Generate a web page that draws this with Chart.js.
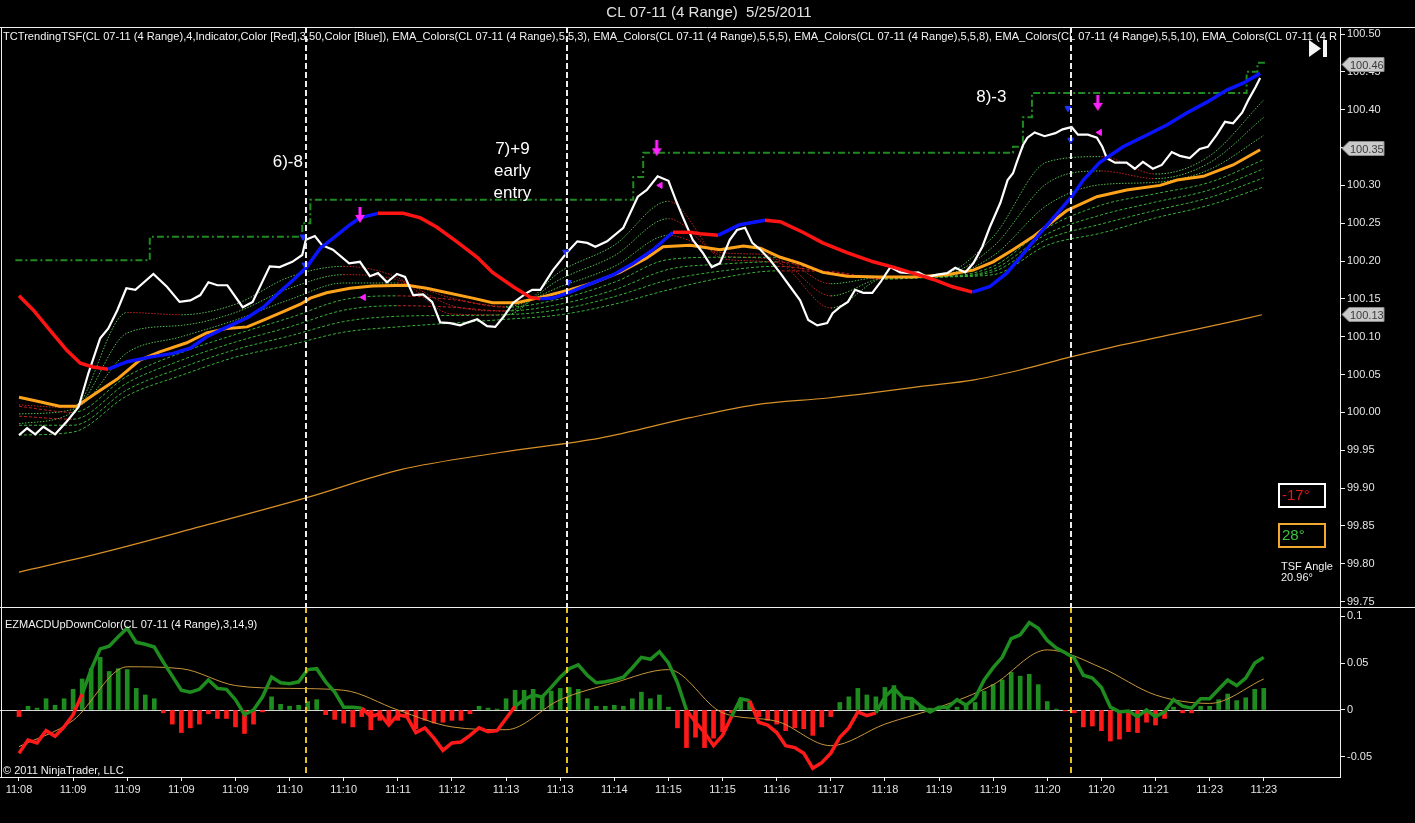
<!DOCTYPE html>
<html>
<head>
<meta charset="utf-8">
<title>CL 07-11 (4 Range) 5/25/2011</title>
<script src="https://cdn.jsdelivr.net/npm/chart.js@4.4.1/dist/chart.umd.min.js"></script>
<style>
  html, body { margin: 0; padding: 0; background: #000; overflow: hidden; }
  #wrap { position: relative; width: 1415px; height: 823px; }
  #priceBox { position: absolute; left: 0; top: 0; width: 1415px; height: 623px; }
  #macdBox { position: absolute; left: 0; top: 590px; width: 1415px; height: 233px; }
</style>
</head>
<body>
<div id="wrap">
  <div id="priceBox"><canvas id="priceChart"></canvas></div>
  <div id="macdBox"><canvas id="macdChart"></canvas></div>
</div>
<script>
const FONT = "'Liberation Sans', Arial, sans-serif";
Chart.defaults.font.family = FONT;
Chart.defaults.color = '#e4e4e4';

const chartTitle = 'CL 07-11 (4 Range)  5/25/2011';
const indicatorCaption = 'TCTrendingTSF(CL 07-11 (4 Range),4,Indicator,Color [Red],3,50,Color [Blue]), EMA_Colors(CL 07-11 (4 Range),5,5,3), EMA_Colors(CL 07-11 (4 Range),5,5,5), EMA_Colors(CL 07-11 (4 Range),5,5,8), EMA_Colors(CL 07-11 (4 Range),5,5,10), EMA_Colors(CL 07-11 (4 R';
const macdCaption = 'EZMACDUpDownColor(CL 07-11 (4 Range),3,14,9)';
const copyright = '\u00A9 2011 NinjaTrader, LLC';

// x axis: one label every 6 range bars
const BARS_PER_LABEL = 6;
const timeLabels = ['11:08','11:09','11:09','11:09','11:09','11:10','11:10','11:11','11:12','11:13','11:13','11:14',
                    '11:15','11:15','11:16','11:17','11:18','11:19','11:19','11:20','11:20','11:21','11:23','11:23'];
const labelBars = timeLabels.map((_, i) => i * BARS_PER_LABEL);
// where bar 0 sits and how wide a bar is on screen
const FIRST_BAR_PX = 19, PX_PER_BAR = 9.02;

const priceTicks = [99.75,99.80,99.85,99.90,99.95,100.00,100.05,100.10,100.15,100.20,100.25,100.30,100.35,100.40,100.45,100.50];
const macdTicks = [-0.05, 0, 0.05, 0.1];
const macdTickLabels = ['-0.05', '0', '0.05', '0.1'];

// close line (bar position, price)
const closeBars = [0.0,0.9,1.8,2.7,4.0,5.3,6.6,7.7,9.0,9.9,10.9,11.9,12.9,14.9,16.4,17.8,19.0,20.1,21.0,22.0,23.1,24.8,25.9,27.8,28.9,30.3,31.4,31.8,32.8,33.6,34.8,36.6,37.8,38.9,39.8,40.8,41.9,42.8,43.7,44.8,45.8,46.7,47.8,48.9,49.8,50.8,51.9,52.8,53.7,54.8,56.3,56.9,57.8,59.2,60.8,61.9,63.0,63.9,65.2,67.0,68.6,69.6,70.8,72.0,72.9,73.6,74.7,75.8,76.8,77.7,78.8,79.6,80.5,81.3,82.2,83.3,84.4,85.5,86.6,87.5,88.5,89.6,90.2,91.0,91.9,92.7,93.6,94.6,95.5,96.6,97.7,98.8,99.7,100.7,101.8,102.9,103.8,104.9,105.8,106.8,107.6,108.8,109.6,110.2,110.6,111.3,111.8,112.6,113.7,114.9,115.7,116.7,117.4,118.5,119.5,120.1,120.6,121.5,122.8,123.7,124.6,125.7,126.7,127.8,128.7,129.8,130.9,131.8,132.8,133.7,134.6,135.6,136.3,137.1,137.6];
const closePrices = [99.970,99.979,99.971,99.981,99.971,99.988,100.007,100.052,100.098,100.111,100.135,100.164,100.162,100.183,100.166,100.146,100.148,100.155,100.172,100.168,100.168,100.139,100.146,100.193,100.192,100.199,100.208,100.228,100.233,100.221,100.215,100.197,100.199,100.180,100.184,100.172,100.183,100.179,100.155,100.156,100.146,100.119,100.118,100.115,100.119,100.123,100.114,100.113,100.126,100.145,100.158,100.162,100.162,100.188,100.212,100.226,100.224,100.219,100.226,100.244,100.285,100.294,100.312,100.306,100.278,100.258,100.228,100.211,100.192,100.197,100.228,100.241,100.244,100.224,100.215,100.201,100.184,100.166,100.148,100.122,100.115,100.118,100.131,100.139,100.146,100.162,100.158,100.158,100.172,100.192,100.185,100.184,100.185,100.179,100.182,100.184,100.191,100.185,100.197,100.219,100.244,100.277,100.307,100.316,100.330,100.353,100.363,100.370,100.365,100.369,100.374,100.377,100.367,100.367,100.363,100.351,100.336,100.330,100.330,100.322,100.331,100.322,100.327,100.344,100.339,100.336,100.348,100.351,100.367,100.384,100.382,100.396,100.413,100.430,100.442];

// trending TSF (1 = rising / blue, 0 = falling / red)
const tsfBars = [0.0,1.6,3.4,5.3,6.8,8.2,9.9,12.0,14.5,17.1,19.0,20.8,23.1,25.3,27.1,28.9,30.4,31.9,33.4,34.8,36.7,37.8,39.8,42.6,44.5,46.3,48.6,50.8,52.5,54.8,56.7,57.8,59.2,61.1,63.6,65.9,68.1,70.3,72.5,74.4,75.5,77.5,79.9,82.7,84.4,86.9,89.1,91.8,94.7,96.9,99.1,101.3,103.5,105.7,107.6,109.5,111.0,113.2,115.4,116.7,118.0,119.8,122.4,124.6,127.3,129.5,131.7,133.9,135.7,137.6];
const tsfPrices = [100.154,100.135,100.109,100.082,100.065,100.060,100.057,100.067,100.073,100.078,100.085,100.100,100.113,100.125,100.139,100.159,100.175,100.192,100.217,100.230,100.248,100.257,100.263,100.263,100.257,100.245,100.225,100.205,100.185,100.166,100.152,100.150,100.151,100.159,100.171,100.182,100.197,100.215,100.238,100.238,100.236,100.234,100.248,100.254,100.252,100.238,100.224,100.211,100.199,100.192,100.184,100.176,100.166,100.159,100.166,100.184,100.205,100.237,100.267,100.285,100.307,100.330,100.351,100.364,100.380,100.396,100.410,100.426,100.435,100.448];
const tsfUp = [0,0,0,0,0,0, 1,1,1,1,1,1,1,1,1,1,1,1,1,1,1,1, 0,0,0,0,0,0,0,0,0, 1,1,1,1,1,1,1, 0,0,0, 1,1, 0,0,0,0,0,0,0,0,0,0, 1,1,1,1,1,1,1,1,1,1,1,1,1,1,1,1,1];

// thick orange EMA
const emaBars = [0,2.3,4.5,6.4,8.6,10.9,13.4,15.6,18.6,20.8,23.1,25.3,27.1,29.3,31.2,32.3,34.1,36.7,39.2,43.0,45.2,47.5,50.3,52.5,55.2,57.8,61.1,63.6,66.6,69.6,71.4,74.4,77.7,80.3,82.2,84.4,86.6,89.1,91.8,95.5,99.1,102.9,105.8,108.0,110.2,112.4,116.2,119.5,122.8,126.5,128.4,131.3,134.6,137.6];
const emaPrices = [100.020,100.014,100.008,100.008,100.026,100.044,100.069,100.080,100.092,100.105,100.111,100.113,100.122,100.133,100.143,100.151,100.158,100.164,100.167,100.168,100.164,100.158,100.151,100.145,100.145,100.152,100.162,100.171,100.185,100.204,100.219,100.221,100.215,100.220,100.217,100.205,100.197,100.185,100.180,100.179,100.179,100.182,100.188,100.199,100.215,100.232,100.267,100.285,100.294,100.300,100.307,100.312,100.327,100.347];

// slow thin orange average
const slowBars = [0,9.0,20.1,31.8,42.2,53.3,64.4,74.4,81.6,89.7,94.7,99.8,105.9,111.0,116.5,121.1,128.6,133.7,137.8];
const slowPrices = [99.789,99.814,99.849,99.887,99.924,99.947,99.966,99.993,100.010,100.019,100.026,100.034,100.043,100.056,100.073,100.086,100.105,100.118,100.129];

// green dash-dot stop level (value starts at that bar)
const stopBars = [-0.4,14.5,31.4,32.3,68.1,69.2,110.2,111.3,112.3,136.1,137.3,138.4];
const stopPrices = [100.201,100.232,100.250,100.281,100.311,100.343,100.351,100.390,100.422,100.450,100.462,100.462];

// EMA ribbon, sampled at each time label
const ribbonFast1 = [99.985,100.001,100.132,100.129,100.143,100.179,100.193,100.178,100.130,100.129,100.186,100.221,100.279,100.203,100.198,100.138,100.178,100.181,100.232,100.331,100.338,100.315,100.339,100.413];
const ribbonFast2 = [99.998,100.004,100.105,100.115,100.132,100.164,100.182,100.175,100.141,100.134,100.176,100.207,100.256,100.207,100.202,100.154,100.178,100.180,100.219,100.303,100.319,100.309,100.330,100.390];
const ribbonFast3 = [100.010,100.006,100.079,100.100,100.122,100.149,100.171,100.171,100.151,100.140,100.166,100.193,100.234,100.211,100.207,100.170,100.179,100.179,100.207,100.274,100.301,100.304,100.321,100.366];
const ribbonSlow1 = [100.008,100.000,100.048,100.079,100.103,100.125,100.149,100.154,100.149,100.139,100.150,100.172,100.202,100.205,100.205,100.184,100.178,100.179,100.193,100.244,100.274,100.289,100.304,100.334];
const ribbonSlow2 = [99.995,99.991,100.039,100.069,100.093,100.113,100.135,100.141,100.139,100.134,100.143,100.162,100.189,100.196,100.199,100.184,100.178,100.179,100.189,100.236,100.261,100.278,100.294,100.322];
const ribbonSlow3 = [99.983,99.983,100.030,100.059,100.083,100.101,100.120,100.127,100.128,100.129,100.136,100.153,100.175,100.187,100.193,100.185,100.177,100.179,100.186,100.229,100.249,100.267,100.284,100.310];
const ribbonSlow4 = [99.970,99.974,100.022,100.049,100.073,100.089,100.106,100.113,100.118,100.123,100.129,100.143,100.162,100.178,100.187,100.186,100.176,100.179,100.182,100.221,100.237,100.257,100.274,100.298];

// markers
const arrowBars = [37.8, 70.7, 119.6];
const arrowPrices = [100.261, 100.349, 100.409];
const flagBars = [38.2, 71.1, 119.8];
const flagPrices = [100.152, 100.300, 100.370];
const entryBars = [31.5, 31.7, 60.6, 60.9, 116.3, 116.6];
const entryPrices = [100.232, 100.195, 100.212, 100.172, 100.402, 100.360];
const signalBars = [31.8, 60.8, 116.6];
const notes = [
  { lines: ['6)-8'], bar: 29.8, price: 100.331 },
  { lines: ['7)+9', 'early', 'entry'], bar: 54.7, price: 100.347 },
  { lines: ['8)-3'], bar: 107.8, price: 100.417 }
];
const lastValues = [100.46, 100.35, 100.13];
const angleFast = '-17\u00B0', angleSlow = '28\u00B0', tsfAngle = '20.96\u00B0';

// MACD panel, one value per bar
const macdValues = [-0.046,-0.032,-0.035,-0.022,-0.028,-0.018,-0.005,0.017,0.043,0.065,
  0.068,0.078,0.087,0.072,0.070,0.067,0.051,0.036,0.021,0.019,
  0.022,0.032,0.023,0.022,0.011,-0.005,0.000,0.014,0.035,0.029,
  0.028,0.030,0.043,0.044,0.030,0.019,0.003,0.003,0.002,-0.007,
  -0.004,-0.016,-0.005,-0.007,-0.024,-0.019,-0.030,-0.043,-0.035,-0.034,
  -0.027,-0.019,-0.023,-0.022,-0.009,0.004,0.011,0.016,0.014,0.024,
  0.035,0.044,0.048,0.037,0.029,0.030,0.032,0.035,0.045,0.056,
  0.054,0.062,0.050,0.029,0.000,-0.013,-0.024,
  -0.038,-0.027,-0.007,0.012,0.010,-0.013,-0.016,-0.024,-0.038,-0.040,
  -0.046,-0.062,-0.056,-0.046,-0.029,-0.019,-0.002,-0.006,-0.003,0.014,
  0.023,0.013,0.012,0.004,-0.002,0.003,0.003,0.011,0.005,0.013,
  0.032,0.045,0.056,0.076,0.080,0.093,0.087,0.074,0.066,0.061,
  0.055,0.037,0.034,0.024,0.003,-0.002,-0.001,-0.007,0.000,-0.007,
  -0.002,0.011,0.004,0.002,0.012,0.012,0.022,0.032,0.026,0.034,
  0.050,0.056];
const histValues = [-0.007,0.004,0.002,0.012,0.005,0.012,0.022,0.033,0.044,0.056,
  0.041,0.044,0.043,0.023,0.016,0.012,-0.003,-0.015,-0.024,-0.019,
  -0.015,-0.004,-0.009,-0.009,-0.018,-0.025,-0.015,-0.002,0.014,0.006,
  0.004,0.005,0.009,0.011,-0.005,-0.010,-0.014,-0.018,-0.007,-0.021,
  -0.011,-0.013,-0.011,-0.007,-0.020,-0.011,-0.014,-0.013,-0.011,-0.011,
  -0.004,0.004,0.002,0.001,0.012,0.021,0.021,0.022,0.014,0.020,
  0.023,0.024,0.022,0.012,0.004,0.004,0.005,0.004,0.012,0.019,
  0.012,0.016,0.003,-0.019,-0.040,-0.029,-0.040,
  -0.030,-0.023,-0.003,0.012,0.008,-0.007,-0.011,-0.015,-0.022,-0.019,
  -0.020,-0.027,-0.018,-0.007,0.008,0.014,0.023,0.016,0.014,0.024,
  0.026,0.013,0.010,0.004,0.002,0.002,0.001,0.003,0.004,0.008,
  0.020,0.027,0.032,0.040,0.036,0.038,0.027,0.009,0.001,-0.001,
  -0.003,-0.018,-0.017,-0.022,-0.033,-0.031,-0.023,-0.024,-0.013,-0.016,
  -0.009,0.003,-0.003,-0.003,0.004,0.004,0.011,0.017,0.010,0.013,
  0.022,0.023];
const signalValues = [-0.039,-0.011,0.046,0.044,0.026,0.023,0.021,0.000,-0.018,-0.021,0.011,0.029,
                      0.043,-0.003,-0.012,-0.038,-0.015,0.003,0.027,0.064,0.045,0.016,0.007,0.033];
// bar ranges where the MACD line is painted red
const macdDownRuns = [[0, 7], [38, 55], [74, 79], [81, 95]];

const allBars = macdValues.map((_, i) => i);
const pts = (xs, ys) => xs.map((x, i) => ({ x, y: ys[i] }));

function makeArrow(color) {
  const c = document.createElement('canvas');
  c.width = 10; c.height = 16;
  const g = c.getContext('2d');
  g.fillStyle = color;
  g.fillRect(3.5, 0, 3, 9);
  g.beginPath(); g.moveTo(0, 8); g.lineTo(10, 8); g.lineTo(5, 16); g.closePath(); g.fill();
  return c;
}

function ribbon(vals, dash, up) {
  return {
    data: pts(labelBars, vals), borderWidth: 1, borderDash: dash, pointRadius: 0,
    cubicInterpolationMode: 'monotone', borderColor: up, order: 7,
    segment: { borderColor: c => c.p1.parsed.y >= c.p0.parsed.y - 0.0005 ? up : '#c42020' }
  };
}

function fixedWidth(w) { return ax => { ax.width = w; }; }

// keep both panels on the same bar grid whatever the layout gives
function alignBars(chart) {
  const a = chart.chartArea, x = chart.options.scales.x;
  x.min = (a.left - FIRST_BAR_PX) / PX_PER_BAR;
  x.max = (a.right - FIRST_BAR_PX) / PX_PER_BAR;
  chart.update('none');
}

const priceDecor = {
  id: 'priceDecor',
  afterDatasetsDraw(chart) {
    const { ctx, chartArea: a, scales } = chart;
    ctx.save();
    ctx.strokeStyle = '#ececec'; ctx.lineWidth = 2; ctx.setLineDash([6, 3]);
    signalBars.forEach(b => {
      const px = Math.round(scales.x.getPixelForValue(b));
      ctx.beginPath(); ctx.moveTo(px, a.top); ctx.lineTo(px, a.bottom); ctx.stroke();
    });
    ctx.restore();
  },
  afterDraw(chart) {
    const { ctx, chartArea: a, scales, width } = chart;
    ctx.save();
    ctx.strokeStyle = '#f0f0f0'; ctx.lineWidth = 1;
    ctx.beginPath();
    ctx.moveTo(0, a.top + 0.5); ctx.lineTo(width, a.top + 0.5);
    ctx.moveTo(0, a.bottom + 0.5); ctx.lineTo(width, a.bottom + 0.5);
    ctx.moveTo(1.5, a.top); ctx.lineTo(1.5, a.bottom);
    ctx.stroke();

    // indicator caption runs the full panel width
    ctx.fillStyle = '#f2f2f2'; ctx.font = '11px ' + FONT; ctx.textBaseline = 'middle';
    const w = ctx.measureText(indicatorCaption).width;
    ctx.save();
    ctx.translate(3, a.top + 10);
    ctx.scale((a.right - 6) / w, 1);
    ctx.fillText(indicatorCaption, 0, 0);
    ctx.restore();

    // trade notes
    ctx.font = '17px ' + FONT; ctx.textAlign = 'center'; ctx.fillStyle = '#ffffff';
    notes.forEach(n => {
      const nx = scales.x.getPixelForValue(n.bar), ny = scales.y.getPixelForValue(n.price);
      n.lines.forEach((t, i) => ctx.fillText(t, nx, ny + i * 22));
    });

    // last value tags on the price axis
    ctx.font = '11px ' + FONT; ctx.textAlign = 'left';
    lastValues.forEach(v => {
      const ty = Math.round(scales.y.getPixelForValue(v)) + 0.5;
      const x0 = a.right + 2;
      ctx.beginPath();
      ctx.moveTo(x0, ty); ctx.lineTo(x0 + 7, ty - 7); ctx.lineTo(x0 + 42, ty - 7);
      ctx.lineTo(x0 + 42, ty + 7); ctx.lineTo(x0 + 7, ty + 7); ctx.closePath();
      ctx.fillStyle = '#c9c9c9'; ctx.fill();
      ctx.strokeStyle = '#8a8a8a'; ctx.stroke();
      ctx.fillStyle = '#3a3a3a'; ctx.fillText(v.toFixed(2), x0 + 8, ty + 1);
    });

    // TSF angle boxes
    const bx = a.right - 61;
    ctx.lineWidth = 2;
    ctx.strokeStyle = '#ffffff'; ctx.strokeRect(bx, 484, 46, 23);
    ctx.strokeStyle = '#f0a830'; ctx.strokeRect(bx, 524, 46, 23);
    ctx.font = '15px ' + FONT;
    ctx.fillStyle = '#e01818'; ctx.fillText(angleFast, bx + 3, 496);
    ctx.fillStyle = '#3cc43c'; ctx.fillText(angleSlow, bx + 3, 536);
    ctx.font = '11px ' + FONT; ctx.fillStyle = '#f0f0f0';
    ctx.fillText('TSF Angle', bx + 2, 567);
    ctx.fillText(tsfAngle, bx + 2, 578);

    // "go to end" button
    ctx.fillStyle = '#f4f4f4';
    ctx.beginPath(); ctx.moveTo(1309, 40); ctx.lineTo(1309, 57); ctx.lineTo(1321, 48.5); ctx.closePath(); ctx.fill();
    ctx.fillRect(1323, 40, 4, 17);
    ctx.restore();
  }
};

const macdDecor = {
  id: 'macdDecor',
  beforeDatasetsDraw(chart) {
    const { ctx, chartArea: a, scales } = chart;
    const y0 = Math.round(scales.y.getPixelForValue(0)) + 0.5;
    ctx.save();
    ctx.strokeStyle = '#d6d6d6'; ctx.lineWidth = 1;
    ctx.beginPath(); ctx.moveTo(0, y0); ctx.lineTo(a.right, y0); ctx.stroke();
    ctx.restore();
  },
  afterDatasetsDraw(chart) {
    const { ctx, chartArea: a, scales } = chart;
    ctx.save();
    ctx.strokeStyle = '#e8c020'; ctx.lineWidth = 2; ctx.setLineDash([6, 4]);
    signalBars.forEach(b => {
      const px = Math.round(scales.x.getPixelForValue(b));
      ctx.beginPath(); ctx.moveTo(px, a.top); ctx.lineTo(px, a.bottom); ctx.stroke();
    });
    ctx.restore();
  },
  afterDraw(chart) {
    const { ctx, chartArea: a, width } = chart;
    ctx.save();
    ctx.strokeStyle = '#f0f0f0'; ctx.lineWidth = 1;
    ctx.beginPath();
    ctx.moveTo(0, a.top + 0.5); ctx.lineTo(width, a.top + 0.5);
    ctx.moveTo(0, a.bottom + 0.5); ctx.lineTo(a.right, a.bottom + 0.5);
    ctx.moveTo(1.5, a.top); ctx.lineTo(1.5, a.bottom);
    ctx.stroke();
    ctx.fillStyle = '#f2f2f2'; ctx.font = '11px ' + FONT; ctx.textBaseline = 'middle';
    ctx.fillText(macdCaption, 5, a.top + 18);
    ctx.fillText(copyright, 3, a.bottom - 6);
    ctx.restore();
  }
};

const priceChart = new Chart(document.getElementById('priceChart'), {
  type: 'line',
  data: {
    datasets: [
      { data: pts(stopBars, stopPrices), stepped: true, borderColor: '#1f8a1f', borderWidth: 2,
        borderDash: [7, 3, 2, 3], pointRadius: 0, order: 9 },
      { data: pts(slowBars, slowPrices), borderColor: '#d89028', borderWidth: 1.2, pointRadius: 0,
        cubicInterpolationMode: 'monotone', order: 8 },
      ribbon(ribbonSlow4, [3, 2], '#38b038'),
      ribbon(ribbonSlow3, [3, 2], '#38b038'),
      ribbon(ribbonSlow2, [3, 2], '#38b038'),
      ribbon(ribbonSlow1, [3, 2], '#38b038'),
      ribbon(ribbonFast3, [1.5, 1.5], '#52bc52'),
      ribbon(ribbonFast2, [1.5, 1.5], '#52bc52'),
      ribbon(ribbonFast1, [1.5, 1.5], '#52bc52'),
      { data: pts(emaBars, emaPrices), borderColor: '#ffa31a', borderWidth: 3, pointRadius: 0, order: 5 },
      { data: pts(closeBars, closePrices), borderColor: '#ffffff', borderWidth: 2.2, pointRadius: 0, order: 3 },
      { data: pts(tsfBars, tsfPrices), borderColor: '#0a14ff', borderWidth: 3.5, pointRadius: 0, order: 2,
        segment: { borderColor: c => tsfUp[c.p0DataIndex] ? '#0a14ff' : '#ff1414' } },
      { data: pts(arrowBars, arrowPrices), showLine: false, pointStyle: makeArrow('#ff22ff'), pointRadius: 6, order: 1 },
      { data: pts(flagBars, flagPrices), showLine: false, pointStyle: 'triangle', rotation: -90,
        pointRadius: 3.5, backgroundColor: '#ff22ff', borderColor: '#ff22ff', order: 1 },
      { data: pts(entryBars, entryPrices), showLine: false, pointStyle: 'triangle', rotation: 180,
        pointRadius: 3.5, backgroundColor: '#2233ff', borderColor: '#2233ff', order: 1 }
    ]
  },
  options: {
    responsive: true, maintainAspectRatio: false, animation: false, events: [],
    layout: { padding: { top: 0, left: 3, right: 0, bottom: 16 } },
    plugins: {
      legend: { display: false }, tooltip: { enabled: false },
      title: { display: true, text: chartTitle, color: '#e2e2e2', font: { size: 15, weight: 'normal' },
               padding: { top: 4, bottom: 5 } }
    },
    scales: {
      x: { type: 'linear', min: -1.78, max: 146.45, display: false },
      y: {
        position: 'right', min: 99.7428, max: 100.5093,
        afterBuildTicks: ax => { ax.ticks = priceTicks.map(v => ({ value: v })); },
        afterFit: fixedWidth(75),
        ticks: { callback: v => v.toFixed(2), font: { size: 11 }, color: '#e4e4e4', padding: 2 },
        grid: { drawOnChartArea: false, color: '#f0f0f0', tickLength: 5 },
        border: { color: '#f0f0f0' }
      }
    }
  },
  plugins: [priceDecor]
});

const macdChart = new Chart(document.getElementById('macdChart'), {
  type: 'bar',
  data: {
    datasets: [
      { type: 'bar', data: pts(allBars, histValues), barThickness: 4, order: 3,
        backgroundColor: c => (c.raw && c.raw.y >= 0) ? '#1f8c1f' : '#ff1a1a' },
      { type: 'line', data: pts(labelBars, signalValues), borderColor: '#c8963c', borderWidth: 1,
        pointRadius: 0, cubicInterpolationMode: 'monotone', order: 2 },
      { type: 'line', data: pts(allBars, macdValues), borderColor: '#1e8c1e', borderWidth: 3.5, pointRadius: 0, order: 1,
        segment: { borderColor: c => macdDownRuns.some(r => c.p0DataIndex >= r[0] && c.p0DataIndex < r[1]) ? '#ff1a1a' : '#1e8c1e' } }
    ]
  },
  options: {
    responsive: true, maintainAspectRatio: false, animation: false, events: [],
    layout: { padding: { top: 17, left: 3, right: 0, bottom: 0 } },
    plugins: { legend: { display: false }, tooltip: { enabled: false } },
    scales: {
      x: {
        type: 'linear', min: -1.78, max: 146.45, offset: false,
        afterBuildTicks: ax => { ax.ticks = labelBars.map(v => ({ value: v })); },
        afterFit: ax => { ax.height = 46; },
        ticks: { callback: (v, i) => timeLabels[i], autoSkip: false, maxRotation: 0, font: { size: 11 },
                 color: '#e4e4e4', padding: 2 },
        grid: { offset: false, drawOnChartArea: false, color: '#f0f0f0', tickLength: 4 },
        border: { color: '#f0f0f0' }
      },
      y: {
        position: 'right', min: -0.0713, max: 0.1096,
        afterBuildTicks: ax => { ax.ticks = macdTicks.map(v => ({ value: v })); },
        afterFit: fixedWidth(75),
        ticks: { callback: (v, i) => macdTickLabels[i], font: { size: 11 }, color: '#e4e4e4', padding: 2 },
        grid: { drawOnChartArea: false, color: '#f0f0f0', tickLength: 5 },
        border: { color: '#f0f0f0' }
      }
    }
  },
  plugins: [macdDecor]
});

alignBars(priceChart);
alignBars(macdChart);
</script>
</body>
</html>
